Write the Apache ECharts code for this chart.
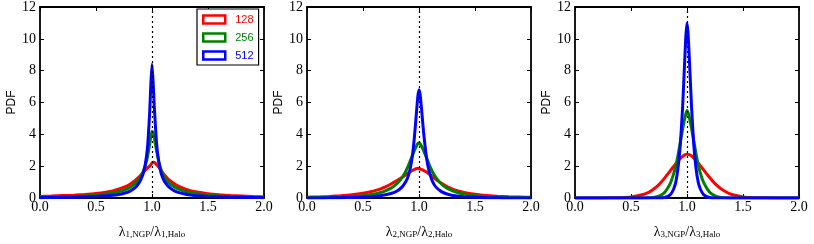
<!DOCTYPE html>
<html><head><meta charset="utf-8">
<script src="https://cdn.jsdelivr.net/npm/echarts@6/dist/echarts.min.js"></script>
<style>html,body{margin:0;padding:0;background:#fff}#c{width:814px;height:244px}</style>
</head><body><div id="c"></div>
<script>
const xs = [0,0.1,0.2,0.3,0.4,0.5,0.6,0.65,0.7,0.75,0.8,0.85,0.88,0.9,0.92,0.94,0.96,0.98,0.99,1.0,1.01,1.02,1.04,1.06,1.08,1.1,1.12,1.15,1.2,1.25,1.3,1.35,1.4,1.5,1.6,1.7,1.8,1.9,2.0];
const seriesNames = ['128','256','512'];
const seriesColors = ['#ff0000','#008000','#0000ff'];
const xTicks = [0,0.5,1.0,1.5,2.0];
const yTicks = [0,2,4,6,8,10,12];
const axisTitles = [['1','1'],['2','2'],['3','3']];

// panel 1
const p1_128 = [0.10,0.12,0.15,0.18,0.22,0.28,0.38,0.45,0.55,0.68,0.85,1.1,1.3,1.45,1.6,1.75,1.9,2.0,2.1,2.2,2.25,2.25,2.1,1.95,1.75,1.55,1.38,1.15,0.9,0.7,0.55,0.45,0.38,0.27,0.2,0.15,0.12,0.09,0.07];
const p1_256 = [0.05,0.06,0.08,0.1,0.13,0.18,0.26,0.32,0.4,0.5,0.65,0.9,1.15,1.35,1.65,2.05,2.6,3.4,3.9,4.2,4.1,3.8,3.0,2.3,1.8,1.45,1.2,0.95,0.7,0.52,0.4,0.32,0.26,0.18,0.13,0.1,0.08,0.06,0.05];
const p1_512 = [0.02,0.03,0.04,0.05,0.07,0.1,0.14,0.17,0.22,0.3,0.42,0.65,0.9,1.15,1.5,2.1,3.2,5.5,7.2,8.4,7.3,5.8,3.5,2.3,1.6,1.2,0.95,0.7,0.45,0.32,0.24,0.18,0.14,0.1,0.07,0.05,0.04,0.03,0.02];
// panel 2
const p2_128 = [0.05,0.07,0.1,0.14,0.2,0.3,0.45,0.56,0.7,0.88,1.08,1.3,1.45,1.55,1.65,1.73,1.8,1.85,1.85,1.85,1.82,1.8,1.74,1.66,1.56,1.45,1.34,1.17,0.92,0.72,0.56,0.44,0.35,0.23,0.15,0.11,0.08,0.06,0.04];
const p2_256 = [0.02,0.03,0.04,0.06,0.09,0.14,0.25,0.33,0.45,0.62,0.88,1.3,1.65,1.95,2.3,2.65,3.0,3.3,3.42,3.45,3.4,3.3,3.0,2.65,2.3,1.95,1.65,1.3,0.88,0.62,0.45,0.33,0.25,0.14,0.09,0.06,0.04,0.03,0.02];
const p2_512 = [0,0,0.01,0.02,0.03,0.05,0.1,0.14,0.2,0.28,0.42,0.7,1.0,1.3,1.8,2.6,3.9,5.6,6.4,6.8,6.5,5.8,4.2,2.9,2.0,1.45,1.05,0.7,0.4,0.25,0.16,0.11,0.08,0.04,0.02,0.01,0,0,0];
// panel 3
const p3_128 = [0,0,0,0.01,0.02,0.06,0.2,0.33,0.55,0.85,1.25,1.7,1.98,2.15,2.33,2.48,2.62,2.71,2.74,2.75,2.74,2.72,2.65,2.52,2.37,2.2,2.02,1.75,1.3,0.9,0.6,0.38,0.22,0.07,0.02,0.01,0,0,0];
const p3_256 = [0,0,0,0,0,0,0,0.01,0.04,0.12,0.35,0.9,1.5,2.0,2.7,3.5,4.3,5.0,5.3,5.5,5.35,5.1,4.4,3.6,2.8,2.1,1.55,0.95,0.38,0.13,0.04,0.01,0,0,0,0,0,0,0];
const p3_512 = [0,0,0,0,0,0,0,0,0,0,0.03,0.2,0.55,1.0,1.9,3.3,5.6,8.7,10.2,11.0,10.3,8.9,5.8,3.4,1.9,1.0,0.55,0.2,0.03,0,0,0,0,0,0,0,0,0,0];

const panels = [[p1_128,p1_256,p1_512],[p2_128,p2_256,p2_512],[p3_128,p3_256,p3_512]];
const lefts = [40,307,575];
const W = 224, TOP = 5, H = 202;

const serif = 'Liberation Serif';
const sans = 'Liberation Sans';

const grid = [], xAxis = [], yAxis = [], series = [];
const tickInside = {show:true, inside:true, length:4, lineStyle:{color:'#000', width:1}};
const axLine = {show:true, onZero:false, lineStyle:{color:'#000', width:1.8}};
panels.forEach((pd, i) => {
  grid.push({left: lefts[i], top: TOP, width: W, height: H, containLabel:false});
  xAxis.push({
    type:'value', gridIndex:i, min:0, max:2, interval:0.5, position:'bottom',
    axisLine: axLine, axisTick: tickInside, splitLine:{show:false},
    axisLabel:{show:true, color:'#000', fontFamily:serif, fontSize:14, margin:2, formatter:v=>v.toFixed(1)},
    name: '{l|λ}{s|' + axisTitles[i][0] + ',NGP}{l|/λ}{s|' + axisTitles[i][1] + ',Halo}',
    nameLocation:'middle', nameGap:26,
    nameTextStyle:{color:'#000', fontFamily:serif, rich:{
      l:{fontSize:14, fontFamily:serif, color:'#000', verticalAlign:'bottom', lineHeight:15},
      s:{fontSize:9, fontFamily:serif, color:'#000', verticalAlign:'bottom', lineHeight:11}
    }}
  });
  yAxis.push({
    type:'value', gridIndex:i, min:0, max:12, interval:2, position:'left',
    axisLine: axLine, axisTick: tickInside, splitLine:{show:false},
    axisLabel:{show:true, color:'#000', fontFamily:serif, fontSize:14, margin:4},
    name:'PDF', nameLocation:'middle', nameGap:22, nameRotate:90,
    nameTextStyle:{color:'#000', fontFamily:sans, fontSize:12}
  });
});
panels.forEach((pd, i) => {
  xAxis.push({type:'value', gridIndex:i, min:0, max:2, interval:0.5, position:'top',
    axisLine: axLine, axisTick: tickInside, axisLabel:{show:false}, splitLine:{show:false}});
  yAxis.push({type:'value', gridIndex:i, min:0, max:12, interval:2, position:'right',
    axisLine: axLine, axisTick: tickInside, axisLabel:{show:false}, splitLine:{show:false}});
});
panels.forEach((pd, i) => {
  pd.forEach((vals, k) => {
    const s = {
      type:'line', name: seriesNames[k], xAxisIndex:i, yAxisIndex:i,
      data: xs.map((x, j) => [x, vals[j]]),
      showSymbol:false, symbol:'none', smooth:0.15,
      lineStyle:{color: seriesColors[k], width:3},
      itemStyle:{color: seriesColors[k]},
      z: 2 + k, animation:false
    };
    if (k === 1) {
      s.markLine = {silent:true, symbol:['none','none'], animation:false,
        label:{show:false},
        lineStyle:{type:[2,3], color:'#000', width:1.2},
        data:[{xAxis:1}]};
    }
    series.push(s);
  });
});

const chart = echarts.init(document.getElementById('c'), null, {renderer:'canvas'});
chart.setOption({
  animation:false,
  backgroundColor:'#fff',
  grid, xAxis, yAxis, series,
  legend:{
    show:true, orient:'vertical', left:197, top:9, 
    backgroundColor:'#fff', borderColor:'#000', borderWidth:1.2, borderRadius:0,
    padding:[5,5,4,5], itemGap:7, itemWidth:22, itemHeight:8, icon:'rect',
    textStyle:{fontFamily:sans, fontSize:11, padding:[0,0,0,5]},
    data: seriesNames.map((n,k)=>({name:n,
      itemStyle:{color:'rgba(0,0,0,0)', borderColor:seriesColors[k], borderWidth:2.5},
      textStyle:{color:seriesColors[k]}}))
  }
});
</script></body></html>
